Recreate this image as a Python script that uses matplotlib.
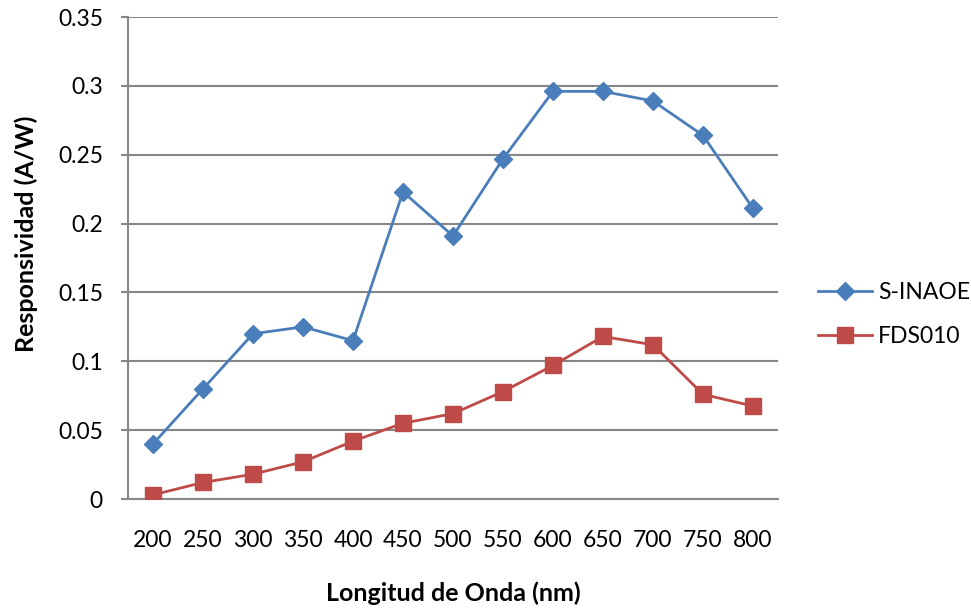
import matplotlib
matplotlib.use("Agg")
import matplotlib.pyplot as plt

plt.rcParams['font.family'] = ['Lato', 'DejaVu Sans']

wavelengths = ["200", "250", "300", "350", "400", "450", "500", "550",
               "600", "650", "700", "750", "800"]
s_inaoe = [0.040, 0.080, 0.120, 0.125, 0.115, 0.223, 0.191, 0.247,
           0.296, 0.296, 0.289, 0.264, 0.211]
fds010 = [0.003, 0.012, 0.018, 0.027, 0.042, 0.055, 0.062, 0.078,
          0.097, 0.118, 0.112, 0.076, 0.0675]
y_ticks = [0, 0.05, 0.1, 0.15, 0.2, 0.25, 0.3, 0.35]
y_tick_labels = ["0", "0.05", "0.1", "0.15", "0.2", "0.25", "0.3", "0.35"]

W, H = 971, 609
fig = plt.figure(figsize=(W / 100, H / 100), dpi=100)
left, right, top, bottom = 128, 778, 17, 499
ax = fig.add_axes([left / W, 1 - bottom / H, (right - left) / W, (bottom - top) / H])

x = list(range(len(wavelengths)))
ax.plot(x, s_inaoe, color="#4A7EBB", lw=2, marker="D", ms=9,
        markeredgecolor="#4A7EBB", label="S-INAOE", zorder=3)
ax.plot(x, fds010, color="#BE4B48", lw=2, marker="s", ms=11,
        markeredgecolor="#BE4B48", label="FDS010", zorder=3)

ax.set_xlim(-0.5, len(wavelengths) - 0.5)
ax.set_ylim(0, 0.35)
ax.set_yticks(y_ticks)
ax.set_yticklabels(y_tick_labels)
ax.set_xticks(x)
ax.set_xticklabels(wavelengths)
ax.grid(axis="y", color="#878787", lw=1.5)
ax.set_axisbelow(True)

for side in ["top", "right"]:
    ax.spines[side].set_visible(False)
ax.spines["left"].set_color("#878787")
ax.spines["left"].set_linewidth(1.5)
ax.spines["bottom"].set_color("#878787")
ax.spines["bottom"].set_linewidth(1.5)
ax.tick_params(axis="y", length=5, width=1.5, color="#878787",
               labelsize=16.5, pad=13)
ax.tick_params(axis="x", length=0, labelsize=16.5, pad=22)

ax.set_xlabel("Longitud de Onda (nm)", fontsize=18, fontweight="bold",
              va="center")
ax.xaxis.set_label_coords(0.5, (bottom - 593) / (bottom - top))
ax.set_ylabel("Responsividad (A/W)", fontsize=18, fontweight="bold",
              va="center")
ax.yaxis.set_label_coords((26 - left) / (right - left), 0.55)

ax.legend(loc="center left", bbox_to_anchor=((809 - left) / (right - left), 0.382),
          frameon=False, fontsize=16.5, handlelength=2.35, labelspacing=1.0,
          handletextpad=0.25, borderaxespad=0)

fig.savefig("out.png", dpi=100)
